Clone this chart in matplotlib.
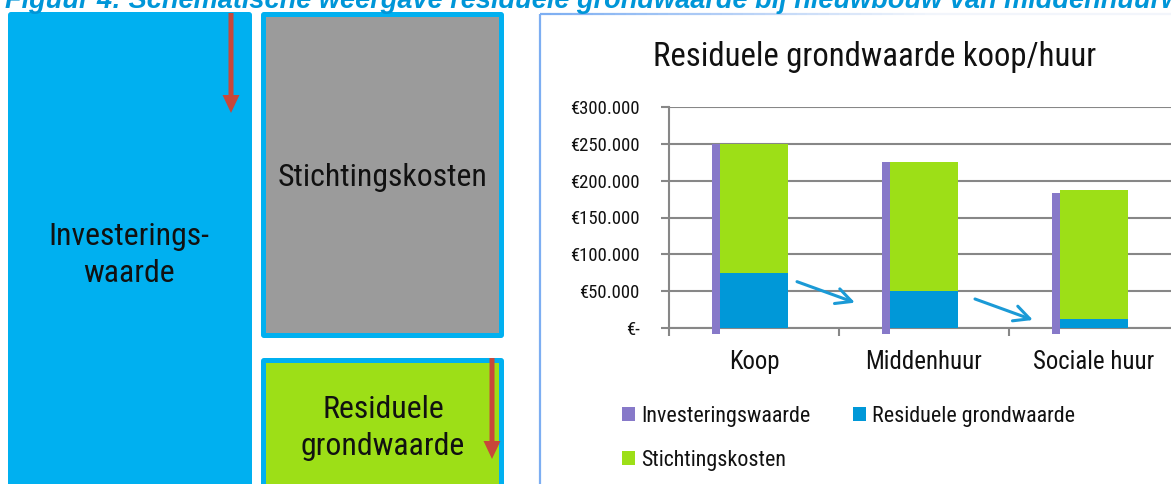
import matplotlib
matplotlib.use("Agg")
import matplotlib.pyplot as plt
from matplotlib import font_manager
from matplotlib.font_manager import FontProperties
from matplotlib.patches import FancyBboxPatch, Rectangle, FancyArrow, Patch
from matplotlib.ticker import FixedLocator
import numpy as np

# ---------------- data ----------------
categories = ["Koop", "Middenhuur", "Sociale huur"]
investeringswaarde = [250000, 225000, 183000]
residuele_grondwaarde = [75000, 50000, 12000]
stichtingskosten = [175000, 175000, 175000]
y_ticks = [0, 50000, 100000, 150000, 200000, 250000, 300000]
y_tick_labels = ["€-", "€50.000", "€100.000", "€150.000", "€200.000", "€250.000", "€300.000"]
series_names = ["Investeringswaarde", "Residuele grondwaarde", "Stichtingskosten"]
chart_title = "Residuele grondwaarde koop/huur"
figure_caption = ("Figuur 4: Schematische weergave residuele grondwaarde bij nieuwbouw "
                  "van middenhuurwoningen")
box_labels = ["Investerings-\nwaarde", "Stichtingskosten", "Residuele\ngrondwaarde"]

# ---------------- font: prefer a condensed / narrow sans ----------------
def _is_regular(f):
    return f.style == "normal" and f.weight in (400, "normal", "regular", "book")

def _is_narrow(f):
    n = f.name.lower()
    st = str(f.stretch).lower()
    return ("narrow" in n or "condensed" in n or "condensed" in st
            or "narrow" in st or (isinstance(f.stretch, (int, float)) and f.stretch < 500))

narrow_fonts = [f for f in font_manager.fontManager.ttflist if _is_regular(f) and _is_narrow(f)]
pref = ["Roboto Condensed", "Liberation Sans Narrow", "Open Sans Condensed", "Noto Sans",
        "Lato", "Roboto", "DejaVu Sans"]
chosen = None
for p in pref:
    for f in narrow_fonts:
        if f.name == p and "extra" not in str(f.stretch) and "ultra" not in str(f.stretch):
            chosen = f.fname
            break
    if chosen:
        break
if chosen is None and narrow_fonts:
    chosen = narrow_fonts[0].fname
if chosen is None:
    chosen = font_manager.findfont(FontProperties(family="Liberation Sans"))

def fp(size):
    return FontProperties(fname=chosen, size=size)

W, H = 1171, 484
fig = plt.figure(figsize=(W / 100, H / 100), dpi=100)
renderer = fig.canvas.get_renderer()

def fit(s, target_px, ref_pt, lo=0.82, hi=1.25):
    w, _, _ = renderer.get_text_width_height_descent(s, fp(ref_pt), ismath=False)
    size = ref_pt * target_px / w
    return float(np.clip(size, lo * ref_pt, hi * ref_pt))

C_PURPLE = "#8779C9"
C_BLUE = "#0098D8"
C_GREEN = "#9DDF17"
C_BOXBLUE = "#00B0F0"
C_GRAY = "#9B9B9B"
C_RED = "#C8473A"
C_GRID = "#878787"
C_ARROW = "#1B9AD6"
C_TEXT = "#111111"

# background axes in pixel coordinates for the schematic part
bg = fig.add_axes([0, 0, 1, 1])
bg.set_xlim(0, W)
bg.set_ylim(H, 0)
bg.axis("off")

# caption (clipped at the top edge, as in the source)
fig.text(5 / W, 1 - 8 / H, figure_caption, color="#0096D8", fontsize=19.5,
         fontweight="bold", fontstyle="italic", family=["Liberation Sans", "DejaVu Sans"],
         va="baseline", ha="left")

# blue investeringswaarde box
bg.add_patch(FancyBboxPatch((8, 12), 244, 490, boxstyle="round,pad=0,rounding_size=3",
                            facecolor=C_BOXBLUE, edgecolor="none"))
# gray stichtingskosten box
bg.add_patch(FancyBboxPatch((261, 12), 243, 326, boxstyle="round,pad=0,rounding_size=3",
                            facecolor=C_BOXBLUE, edgecolor="none"))
bg.add_patch(Rectangle((266, 17), 233, 316, facecolor=C_GRAY, edgecolor="none"))
# green residuele grondwaarde box
bg.add_patch(FancyBboxPatch((261, 358), 243, 140, boxstyle="round,pad=0,rounding_size=3",
                            facecolor=C_BOXBLUE, edgecolor="none"))
bg.add_patch(Rectangle((266, 363), 233, 130, facecolor=C_GREEN, edgecolor="none"))

# red arrows
bg.add_patch(FancyArrow(231, 13, 0, 100, width=5, head_width=17, head_length=18,
                        length_includes_head=True, color=C_RED, linewidth=0))
bg.add_patch(FancyArrow(492, 358, 0, 101, width=5, head_width=17, head_length=18,
                        length_includes_head=True, color=C_RED, linewidth=0))

box_size = fit("Stichtingskosten", 211, 25)
bg.text(129, 255, box_labels[0], ha="center", va="center", fontproperties=fp(box_size),
        linespacing=1.38, color=C_TEXT)
bg.text(383, 178, box_labels[1], ha="center", va="center", fontproperties=fp(box_size),
        color=C_TEXT)
bg.text(383, 428, box_labels[2], ha="center", va="center", fontproperties=fp(box_size),
        linespacing=1.34, color=C_TEXT)

# chart border (left solid, top fading)
bg.plot([540, 540], [14, H + 5], color="#7DAEF2", lw=1.6, solid_capstyle="butt")
xs = np.linspace(540, W, 60)
c0 = np.array(matplotlib.colors.to_rgb("#7DAEF2"))
c1 = np.array(matplotlib.colors.to_rgb("#F2F5FB"))
for i in range(len(xs) - 1):
    t = i / (len(xs) - 2)
    bg.plot([xs[i], xs[i + 1]], [14, 14], color=c0 + (c1 - c0) * min(1, t * 1.6),
            lw=1.6, solid_capstyle="butt")

# chart title
bg.text(875, 57, chart_title, ha="center", va="center",
        fontproperties=fp(fit(chart_title, 444, 24)), color=C_TEXT)

# ---------------- chart ----------------
ax_left, ax_right, ax_top, ax_bot = 669, 1179, 107, 328
ax = fig.add_axes([ax_left / W, 1 - ax_bot / H, (ax_right - ax_left) / W, (ax_bot - ax_top) / H])
ax.patch.set_visible(False)
x = np.arange(len(categories))
bar_w = 0.395
inv_w = 0.047
inv_base = -8000

ax.bar(x, residuele_grondwaarde, width=bar_w, color=C_BLUE, zorder=3, linewidth=0)
ax.bar(x, stichtingskosten, width=bar_w, bottom=residuele_grondwaarde, color=C_GREEN,
       zorder=3, linewidth=0)
ax.bar(x - bar_w / 2 - inv_w / 2, np.array(investeringswaarde) - inv_base, width=inv_w,
       bottom=inv_base, color=C_PURPLE, zorder=4, linewidth=0, clip_on=False)

ax.set_xlim(-0.5, 2.5)
ax.set_ylim(0, 300000)
ax.yaxis.set_major_locator(FixedLocator(y_ticks))
ax.set_yticklabels(y_tick_labels)
ax.grid(axis="y", color=C_GRID, lw=1.5, zorder=0)
ax.set_axisbelow(True)
for s in ["top", "right"]:
    ax.spines[s].set_visible(False)
for s in ["left", "bottom"]:
    ax.spines[s].set_color(C_GRID)
    ax.spines[s].set_linewidth(1.5)
ax.tick_params(axis="y", direction="out", length=6, width=1.5, color=C_GRID,
               pad=15, labelcolor=C_TEXT)
ytick_fp = fp(13.5)
for lab in ax.get_yticklabels():
    lab.set_fontproperties(ytick_fp)
ax.set_xticks(x)
ax.set_xticklabels(categories)
ax.set_xticks([-0.5, 0.5, 1.5, 2.5], minor=True)
ax.tick_params(axis="x", which="major", length=0, pad=16, labelcolor=C_TEXT)
ax.tick_params(axis="x", which="minor", direction="out", length=6, width=1.5, color=C_GRID)
xlab_size = fit("Middenhuur", 117, 17)
for lab in ax.get_xticklabels():
    lab.set_fontproperties(fp(xlab_size))

# blue transition arrows
arrow_kw = dict(arrowstyle="->", color=C_ARROW, lw=2.2, mutation_scale=28,
                shrinkA=0, shrinkB=0)
ax.annotate("", xy=(0.594, 34400), xytext=(0.253, 62900), arrowprops=arrow_kw,
            annotation_clip=False)
ax.annotate("", xy=(1.641, 10900), xytext=(1.30, 39400), arrowprops=arrow_kw,
            annotation_clip=False)

# legend
label_size = fit("Investeringswaarde", 170, 16)
colors = [C_PURPLE, C_BLUE, C_GREEN]
handles = [Patch(facecolor=c, edgecolor="none", label=n) for c, n in zip(colors, series_names)]
order = [0, 2, 1]
leg_fp = fp(label_size)
fs_px = label_size / 72 * 100
fig.legend([handles[i] for i in order], [series_names[i] for i in order],
           loc="upper left", bbox_to_anchor=(611 / W, 1 - 395 / H), ncol=2,
           frameon=False, prop=leg_fp, handlelength=13 / fs_px, handleheight=13 / fs_px,
           handletextpad=6 / fs_px, columnspacing=43 / fs_px,
           labelspacing=(45 - fs_px * 1.0) / fs_px,
           borderpad=0, labelcolor=C_TEXT)

fig.savefig("out.png", dpi=100)
